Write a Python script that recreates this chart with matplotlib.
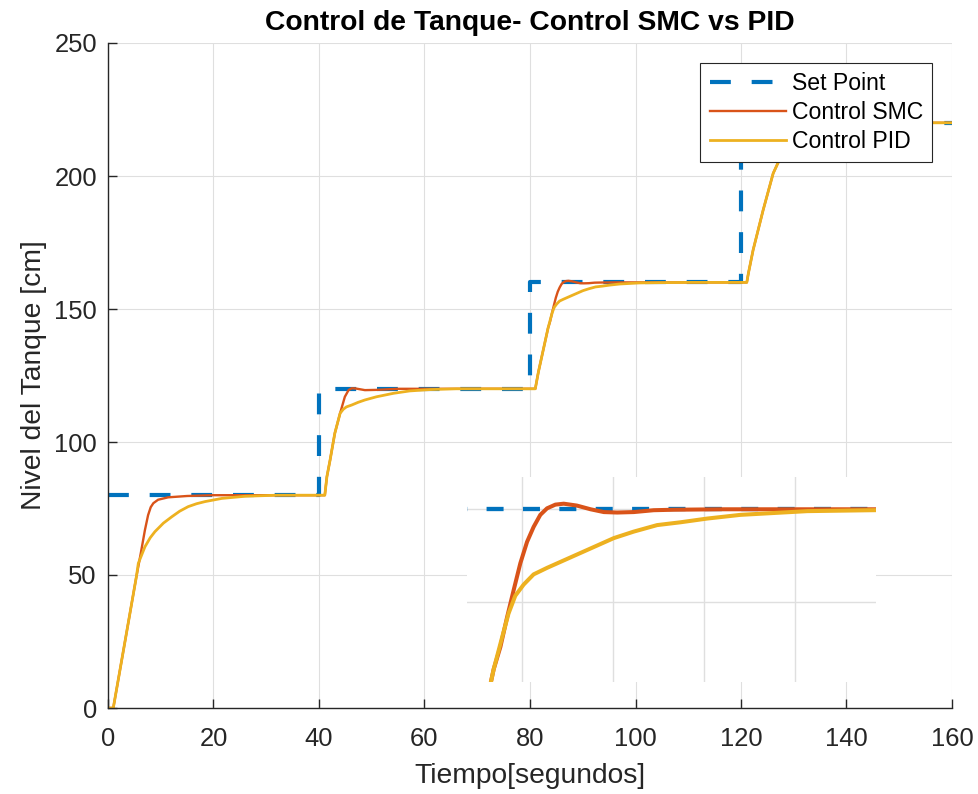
import matplotlib
matplotlib.use('Agg')
import matplotlib.pyplot as plt

# ---------------- data ----------------
t_sp = [0, 40, 40, 80, 80, 120, 120, 160]
y_sp = [80, 80, 120, 120, 160, 160, 220, 220]

t_smc = [0, 1.0, 3.0, 5.4, 6.2, 7.0, 7.6, 8.1, 8.6, 9.5, 11.4, 15, 20, 41.1,
         41.5, 42.1, 43.0, 44.0, 44.9, 45.6, 46.2, 47.0, 48.7, 51, 55, 81.0,
         81.6, 82.5, 83.42, 83.79, 84.16, 84.52, 84.89, 85.26, 85.62, 85.99,
         86.36, 86.82, 87.28, 88.0, 88.76, 89.49, 90.22, 91.14, 92.24, 93.35,
         96, 121.1,
         121.4, 122.3, 124.2, 126.1, 127.1, 128.5, 129.5, 130.5, 133, 160]
y_smc = [0, 0, 22.5, 49.6, 58.0, 66.9, 72.5, 75.5, 77.0, 78.3, 79.2, 79.7, 80, 80,
         87, 93.2, 103.3, 110.8, 117.0, 119.5, 120.2, 120.1, 119.5, 119.6, 120, 120,
         126.4, 134.5, 142.8, 145.2, 148.4, 151.3, 154.2, 156.5, 158.1, 159.4,
         160.1, 160.5, 160.6, 160.4, 160.0, 159.7, 159.65, 159.7, 159.9, 159.95,
         160, 160,
         163.4, 172.2, 187.2, 201, 205.3, 214, 219, 220.3, 220, 220]

t_pid = [0, 1.0, 3.0, 5.4, 5.75, 7.0, 8.0, 8.9, 10.5, 12.1, 13.6, 15.2, 16.8, 18.4, 21.6, 26, 32, 41.1,
         41.5, 42.1, 43.0, 44.0, 44.6, 45.2, 46.2, 47.4, 48.7, 50.9, 54.1, 57.2, 61, 66, 81.0,
         81.6, 82.5, 83.42, 83.88, 84.24, 84.61, 85.07, 85.62, 86.36, 87.28, 88.2,
         89.12, 90.04, 91.14, 92.43, 93.71, 95.18, 97.02, 98.86, 100.7, 102.5,
         104.3, 110, 121.1,
         121.4, 122.3, 124.2, 126.1, 127.1, 128, 129, 131, 135, 140, 145, 150, 160]
y_pid = [0, 0, 22.5, 49.6, 54.4, 60.6, 64.0, 66.3, 69.5, 71.9, 74.0, 75.7, 76.8, 77.6, 78.8, 79.6, 80, 80,
         87, 93.2, 103.3, 110.8, 112.3, 113.2, 113.9, 114.9, 115.8, 117.0, 118.3, 119.2, 119.7, 120, 120,
         126.4, 134.5, 142.8, 146.2, 148.8, 150.7, 151.9, 153.0, 153.7, 154.5, 155.3,
         156.1, 156.9, 157.6, 158.3, 158.6, 159.0, 159.4, 159.6, 159.8, 159.85,
         159.9, 160, 160,
         163.4, 172.2, 187.2, 201, 205.3, 210, 213, 215.5, 218, 219.3, 219.8, 220, 220]

x_ticks = [0, 20, 40, 60, 80, 100, 120, 140, 160]
y_ticks = [0, 50, 100, 150, 200, 250]
inset_x_grid = [85, 90, 95, 100]
inset_y_grid = [150, 160]

labels = ['Set Point', 'Control SMC', 'Control PID']
title = 'Control de Tanque- Control SMC vs PID'
xlabel = 'Tiempo[segundos]'
ylabel = 'Nivel del Tanque [cm]'

# ---------------- style ----------------
plt.rcParams['font.family'] = ['Liberation Sans', 'DejaVu Sans']
C_SP, C_SMC, C_PID = '#0072BD', '#D95319', '#EDB120'
GRID = '#DFDFDF'
DARK = '#262626'

W, H = 979, 794
fig = plt.figure(figsize=(W / 100, H / 100), dpi=100)
ax = fig.add_axes([108 / W, 1 - 708 / H, 844 / W, 665 / H])

ax.plot(t_sp, y_sp, color=C_SP, lw=3, dashes=(5, 5), label=labels[0])
ax.plot(t_smc, y_smc, color=C_SMC, lw=1.7, label=labels[1])
ax.plot(t_pid, y_pid, color=C_PID, lw=2.0, label=labels[2])

ax.set_xlim(0, 160)
ax.set_ylim(0, 250)
ax.set_xticks(x_ticks)
ax.set_yticks(y_ticks)
ax.grid(True, color=GRID, lw=0.8)
ax.set_axisbelow(True)
for s in ['top', 'right']:
    ax.spines[s].set_visible(False)
for s in ['left', 'bottom']:
    ax.spines[s].set_color(DARK)
    ax.spines[s].set_linewidth(1.0)
ax.tick_params(direction='in', length=6.5, width=1, colors=DARK, labelsize=18.4)
ax.tick_params(axis='x', pad=14)
ax.tick_params(axis='y', pad=8)

ax.set_title(title, fontsize=20.3, fontweight='bold', color='black', pad=9)
ax.set_xlabel(xlabel, fontsize=20.3, color=DARK, labelpad=8)
ax.set_ylabel(ylabel, fontsize=20.3, color=DARK, labelpad=5)

leg = ax.legend(loc='upper right', bbox_to_anchor=(0.9763, 0.9699), borderaxespad=0,
                fontsize=16.6, fancybox=False, framealpha=1, edgecolor=DARK,
                borderpad=0.4, labelspacing=0.25, handlelength=3.3, handletextpad=0.25)
leg.get_frame().set_linewidth(0.8)

# ---------------- inset (zoom of the third step) ----------------
axi = fig.add_axes([467 / W, 1 - 682 / H, 409 / W, 205 / H])
axi.set_facecolor('white')
axi.plot(t_sp, y_sp, color=C_SP, lw=3.1, linestyle=(5.4, (3.95, 4.5)))
axi.plot(t_smc, y_smc, color=C_SMC, lw=2.9)
axi.plot(t_pid, y_pid, color=C_PID, lw=2.9)
axi.set_xlim(81.95, 104.49)
axi.set_ylim(141.43, 163.47)
axi.set_xticks(inset_x_grid)
axi.set_yticks(inset_y_grid)
axi.grid(True, color=GRID, lw=1.0)
axi.set_axisbelow(True)
axi.tick_params(length=0, labelbottom=False, labelleft=False)
for s in axi.spines.values():
    s.set_visible(False)

fig.savefig('out.png', dpi=100)
